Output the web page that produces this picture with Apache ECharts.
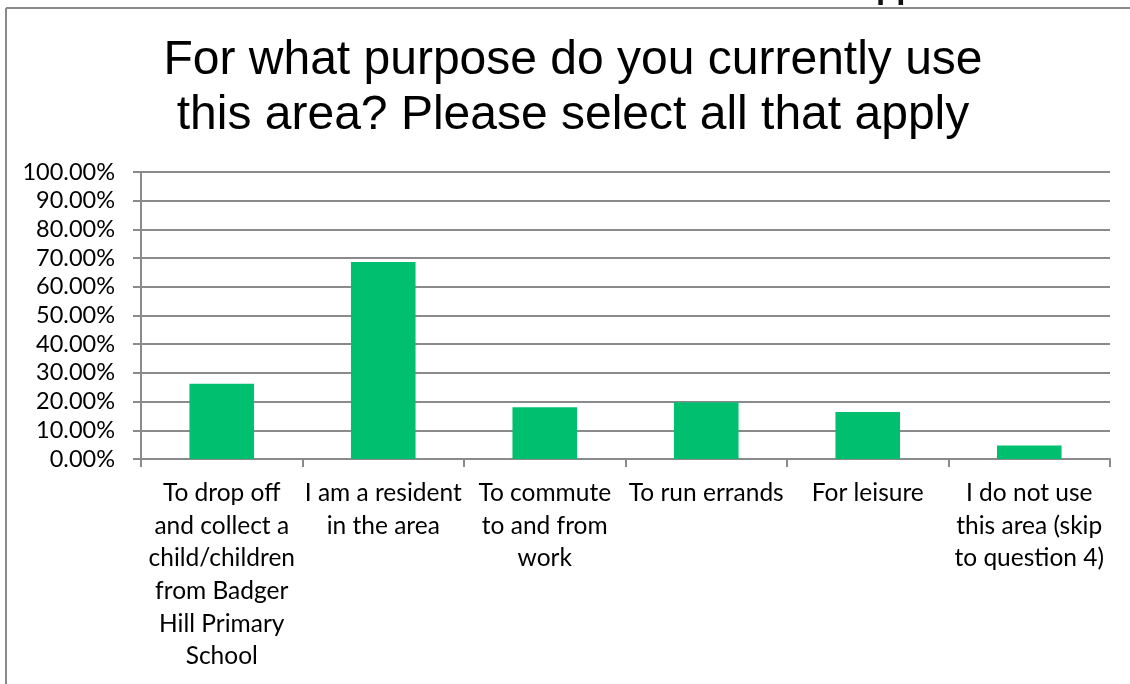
<!DOCTYPE html>
<html>
<head>
<meta charset="utf-8">
<style>html,body{margin:0;padding:0;background:#fff;}#c{width:1130px;height:684px;}</style>
<script src="https://cdn.jsdelivr.net/npm/echarts@6/dist/echarts.min.js"></script>
</head>
<body>
<div id="c"></div>
<script>
var categories = [
  'To drop off\nand collect a\nchild/children\nfrom Badger\nHill Primary\nSchool',
  'I am a resident\nin the area',
  'To commute\nto and from\nwork',
  'To run errands',
  'For leisure',
  'I do not use\nthis area (skip\nto question 4)'
];
var values = [26.2, 68.6, 18.0, 19.8, 16.4, 4.7];
var titleText = 'For what purpose do you currently use\nthis area? Please select all that apply';

var chart = echarts.init(document.getElementById('c'));
var gray = '#8a8a8a';
var labelFont = 'Lato, "Open Sans", sans-serif';
chart.setOption({
  animation: false,
  backgroundColor: '#fff',
  title: {
    text: titleText,
    left: 568, top: 28,
    textAlign: 'center',
    textStyle: { fontFamily: '"Liberation Sans", Arial, sans-serif', fontSize: 48, fontWeight: 'normal', color: '#000', lineHeight: 55 }
  },
  graphic: [
    { type: 'line', shape: { x1: 6, y1: 8, x2: 1130, y2: 8 }, style: { stroke: gray, lineWidth: 2 } },
    { type: 'line', shape: { x1: 6, y1: 8, x2: 6, y2: 684 }, style: { stroke: gray, lineWidth: 2 } },
    { type: 'text', left: 876, top: -28, style: { text: 'pp', font: 'bold 33px "Liberation Sans", Arial, sans-serif', fill: '#111' } }
  ],
  grid: { left: 141, right: 20, top: 172, bottom: 225, containLabel: false },
  xAxis: {
    type: 'category',
    data: categories,
    axisLine: { show: true, lineStyle: { color: gray, width: 2 } },
    axisTick: { show: true, length: 8, lineStyle: { color: gray, width: 2 }, alignWithLabel: false },
    axisLabel: { interval: 0, margin: 18, color: '#000', fontFamily: labelFont, fontSize: 24.5, lineHeight: 32.6, align: 'center' }
  },
  yAxis: {
    type: 'value',
    min: 0, max: 100, interval: 10,
    axisLine: { show: true, lineStyle: { color: gray, width: 2 } },
    axisTick: { show: true, length: 8, lineStyle: { color: gray, width: 2 } },
    splitLine: { show: true, lineStyle: { color: gray, width: 2 } },
    axisLabel: { margin: 26, color: '#000', fontFamily: labelFont, fontSize: 23.5, formatter: function (v) { return v.toFixed(2) + '%'; } }
  },
  series: [{
    type: 'bar',
    data: values,
    barWidth: '40%',
    itemStyle: { color: '#00BF6E' }
  }]
});
</script>
</body>
</html>
